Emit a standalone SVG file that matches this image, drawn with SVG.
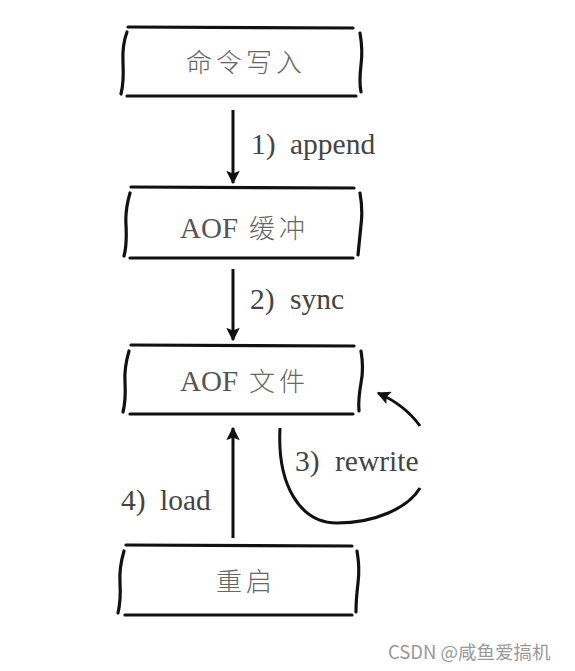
<svg xmlns="http://www.w3.org/2000/svg" width="575" height="671" viewBox="0 0 575 671">
<style>
.edge{fill:none;stroke:#111;stroke-width:3.2;stroke-linecap:round}
.br{fill:none;stroke:#111;stroke-width:3.2;stroke-linecap:round}
.cn{font-size:26px;fill:#666;font-weight:300;letter-spacing:4px}
.lat{font-size:29px;fill:#555}
.lbl{font-size:29.5px;fill:#444}
.ar{fill:none;stroke:#111;stroke-width:3}
</style>
<defs>
<marker id="ah" viewBox="0 0 10 10" refX="9" refY="5" markerWidth="5" markerHeight="4.5" orient="auto" markerUnits="strokeWidth">
<path d="M0,0 L10,5 L0,10 L2,5 Z" fill="#111"/>
</marker>
</defs>
<rect width="575" height="671" fill="#fff"/>
<g id="n1">
<path class="edge" d="M128,27 L353,28"/>
<path class="edge" d="M127,96 L356,96"/>
<path class="br" d="M127,32 Q122,45 123,63 Q124,82 121,94"/>
<path class="br" d="M360,33 Q363,50 361,65 Q359,82 361,92"/>
<text class="cn" font-family="'Noto Sans CJK SC',sans-serif" x="246" y="72" text-anchor="middle">命令写入</text>
</g>
<g id="n2">
<path class="edge" d="M131,187 L354,188"/>
<path class="edge" d="M130,258 L353,258"/>
<path class="br" d="M130,193 Q125,210 126,225 Q127,245 124,256"/>
<path class="br" d="M360,193 Q363,210 361,225 Q359,245 358,255"/>
<text class="lat" style="font-family:'Liberation Serif',serif !important" x="180" y="238">AOF</text>
<text class="cn" font-family="'Noto Sans CJK SC',sans-serif" x="249" y="238">缓冲</text>
</g>
<g id="n3">
<path class="edge" d="M131,345 L354,346"/>
<path class="edge" d="M130,414 L353,414"/>
<path class="br" d="M129,351 Q124,368 125,383 Q126,400 123,412"/>
<path class="br" d="M361,351 Q364,368 361,383 Q358,400 359,411"/>
<text class="lat" style="font-family:'Liberation Serif',serif !important" x="180" y="391">AOF</text>
<text class="cn" font-family="'Noto Sans CJK SC',sans-serif" x="249" y="391">文件</text>
</g>
<g id="n4">
<path class="edge" d="M126,545 L352,546"/>
<path class="edge" d="M125,615 L352,615"/>
<path class="br" d="M124,551 Q119,568 120,583 Q121,600 118,613"/>
<path class="br" d="M357,551 Q360,568 358,583 Q356,600 356,612"/>
<text class="cn" font-family="'Noto Sans CJK SC',sans-serif" x="246" y="591" text-anchor="middle">重启</text>
</g>
<g id="edges">
<path class="ar" d="M233,110 L233,183" marker-end="url(#ah)"/>
<path class="ar" d="M233,269 L233,340" marker-end="url(#ah)"/>
<path class="ar" d="M233,538 L233,428" marker-end="url(#ah)"/>
<path class="ar" d="M280,428 C277,485 300,523 337,523 C375,523 408,508 420,488"/>
<path class="ar" d="M420,426 Q405,405 378,393" marker-end="url(#ah)"/>
<text class="lbl" style="font-family:'Liberation Serif',serif !important" x="251" y="154">1)<tspan x="290">append</tspan></text>
<text class="lbl" style="font-family:'Liberation Serif',serif !important" x="250" y="309">2)<tspan x="290">sync</tspan></text>
<text class="lbl" style="font-family:'Liberation Serif',serif !important" x="295" y="471">3)<tspan x="335">rewrite</tspan></text>
<text class="lbl" style="font-family:'Liberation Serif',serif !important" x="121" y="510">4)<tspan x="160">load</tspan></text>
</g>
<text x="388" y="659" font-family="'Noto Sans CJK SC',sans-serif" font-size="18.5" fill="#999">CSDN @咸鱼爱搞机</text>
</svg>
